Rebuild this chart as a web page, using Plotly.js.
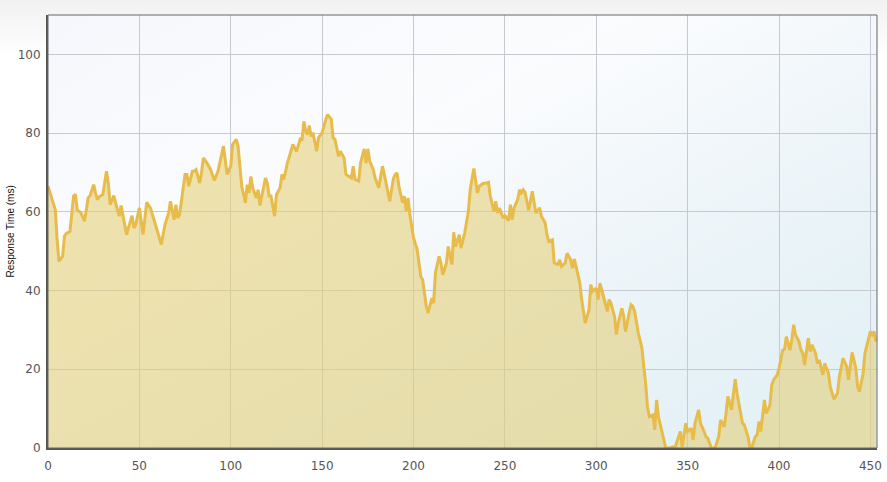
<!DOCTYPE html>
<html>
<head>
<meta charset="utf-8">
<script src="https://cdn.plot.ly/plotly-3.0.1.min.js"></script>
<style>
html,body{margin:0;padding:0;background:#fff;}
#chart{width:887px;height:482px;}
</style>
</head>
<body>
<div id="chart"></div>
<script>
// Sample index (x) and response time in ms (y)
var sampleX = [0,2,4,5,6,8,9,10,12,14,15,16,18,20,22,23,25,26,27,28,30,32,33,34,36,38,39,40,41,43,44,46,47,48,50,51,52,54,56,58,60,62,64,66,67,69,70,71,72,75,76,77,79,80,81,83,84,85,87,89,91,93,96,97,98,100,101,103,104,105,106,108,109,110,111,112,114,115,116,117,119,120,121,122,124,125,127,128,129,131,133,134,136,138,139,140,141,142,143,144,145,147,148,150,152,153,155,156,157,159,160,162,163,164,166,167,168,170,171,173,174,175,176,178,179,181,182,183,184,187,189,190,191,192,194,195,196,197,198,199,200,202,203,204,205,206,207,208,210,211,212,214,215,216,218,219,221,222,223,225,226,228,230,231,233,234,235,236,238,240,241,242,244,245,246,247,249,250,252,253,254,255,257,258,259,260,261,263,265,266,267,269,270,272,273,274,276,277,279,280,281,283,284,286,287,288,289,291,292,293,294,296,297,298,300,301,302,303,305,306,307,308,310,311,312,314,315,316,318,319,320,321,323,325,326,327,328,329,331,332,333,334,335,336,338,340,342,343,345,346,347,349,350,352,353,354,356,357,359,360,361,363,365,367,368,370,371,372,374,376,377,379,380,381,383,384,385,387,388,389,390,392,393,395,396,397,399,400,401,402,403,404,405,406,407,408,409,411,412,413,414,416,417,418,420,421,422,424,425,427,428,429,430,432,433,435,437,438,439,440,442,443,444,446,447,449,450,451,452,453];
var responseMs = [66.5,63.6,60.5,52.9,47.4,48.7,53.8,54.5,55,64,64.4,60.5,59.8,57.6,63.6,64.1,66.9,64.8,63.1,63.8,64.4,70.3,67.3,61.8,64.1,60.5,58.9,61.6,58.9,54.2,55.9,59,55.9,56.7,61,57.2,54.2,62.4,61,58,54.6,51.7,56.7,59.7,62.7,58,61.8,58.4,59.3,69.5,69.5,66.5,70.3,70.3,70.7,67.3,69.9,73.7,72.4,70.7,68,70.3,76.7,73.3,69.5,71.6,77.1,78.4,76.7,71.6,66.5,62.3,66.9,64.8,69,66.1,63.5,65.6,61.6,64,68.6,67.3,64,64,58.9,64.4,66.1,69.5,68.2,72.4,75.4,77.1,75.4,78.5,78.4,83,80.5,79.6,81.9,79.1,80.1,75.4,78.8,80.1,83.5,84.7,83.5,78.8,78.4,74.1,75.4,73.7,69.5,69.2,68.6,71.6,68.2,67.8,72.4,76,72.4,76,72.9,70.7,68.6,66.1,69,71.6,69.5,62.7,68.5,69.5,69.9,66.5,62.3,64,60.1,63.5,59.3,55.9,53.4,50.4,46.6,43.6,42.7,38.5,36,34.3,38.1,36.8,44.5,48.7,47,44,47,51.2,46.6,54.8,51.2,54.2,50.8,54.6,60.1,65.6,71,67.8,64.8,66.5,67.2,67.3,67.5,64,60.1,62.7,59.7,61,58.4,59,57.8,61.8,58,61,63.1,65.6,64.8,65.6,65,60.4,65.2,62.3,59.7,61,58.9,57.2,54.2,52.5,52.9,47,46.6,47.8,46.1,47,49.5,47.8,45.7,48,45.7,41.9,37.7,34.3,31.7,35.1,41.5,39.8,40.6,37.7,41.9,40.2,36.8,34.7,37.7,36.8,33.4,28.8,31.7,35.5,33.4,29.6,34.3,36.4,36,34.7,29.2,25.4,20.7,16.5,10.5,8,8.4,4.6,12.2,8,6,4.2,0,0,0.3,0,2.9,4.2,0.3,6.3,4.2,5,2,6.3,9.7,6.3,4.2,2.9,2.5,0,0,2.9,7.1,5.4,8.8,13.1,9.7,17.5,13.9,9.2,6.3,5.9,2.9,0.3,0,2.9,3.3,6.7,4.2,12.2,8.8,10.9,16,17.3,18.6,20.3,22.8,24.9,25.1,28.3,26.6,24.9,27.5,31.3,28.8,27,24.9,24.1,21.1,27.9,24.5,26.2,24.1,21.5,22.4,18.6,21.5,19,15.6,13.9,12.4,13.9,18.1,22.8,20.7,17.3,21.1,24.3,20.3,15.6,14.3,19,24.1,28.3,29.6,28.8,29.6,27];
var xTicks = [0,50,100,150,200,250,300,350,400,450];
var yTicks = [0,20,40,60,80,100];
var yTitle = "Response Time (ms)";

var plotBg = 'data:image/svg+xml;utf8,' + encodeURIComponent(
  '<svg xmlns="http://www.w3.org/2000/svg" width="100" height="100" preserveAspectRatio="none">' +
  '<defs><linearGradient id="g" x1="0" y1="0" x2="1" y2="1">' +
  '<stop offset="0" stop-color="#f6f7fc"/><stop offset="0.35" stop-color="#fbfcfe"/>' +
  '<stop offset="0.7" stop-color="#eaf3f8"/><stop offset="1" stop-color="#e0f0f4"/>' +
  '</linearGradient></defs><rect width="100" height="100" fill="url(#g)"/></svg>');
var paperBg = 'data:image/svg+xml;utf8,' + encodeURIComponent(
  '<svg xmlns="http://www.w3.org/2000/svg" width="100" height="100" preserveAspectRatio="none">' +
  '<defs><linearGradient id="p" x1="0" y1="0" x2="0" y2="1">' +
  '<stop offset="0" stop-color="#f1f1f1"/><stop offset="0.06" stop-color="#f8f8f8"/>' +
  '<stop offset="0.12" stop-color="#ffffff"/><stop offset="1" stop-color="#ffffff"/>' +
  '</linearGradient></defs><rect width="100" height="100" fill="url(#p)"/></svg>');

var trace = {
  x: sampleX,
  y: responseMs,
  type: 'scatter',
  mode: 'lines',
  fill: 'tozeroy',
  fillcolor: 'rgba(228,206,118,0.58)',
  line: {color: '#e7bc4a', width: 3},
  hoverinfo: 'x+y'
};

var layout = {
  width: 887,
  height: 482,
  margin: {l: 48, r: 10, t: 15, b: 34},
  paper_bgcolor: '#ffffff',
  plot_bgcolor: 'rgba(0,0,0,0)',
  showlegend: false,
  font: {family: 'DejaVu Sans, Verdana, sans-serif', size: 12, color: '#555'},
  xaxis: {
    range: [0, 453.6],
    tickvals: xTicks,
    ticktext: xTicks.map(String),
    showgrid: true,
    gridcolor: '#c6c9d0',
    gridwidth: 1,
    zeroline: false,
    showline: true,
    linecolor: '#555550',
    linewidth: 2,
    ticks: '',
    ticklabelstandoff: 6,
    tickfont: {family: 'DejaVu Sans, Verdana, sans-serif', size: 12, color: '#555'},
    fixedrange: true
  },
  yaxis: {
    range: [0, 110],
    tickvals: yTicks,
    ticktext: yTicks.map(String),
    showgrid: true,
    gridcolor: '#c6c9d0',
    gridwidth: 1,
    zeroline: false,
    showline: true,
    linecolor: '#555550',
    linewidth: 2,
    ticks: '',
    ticklabelstandoff: 3,
    tickfont: {family: 'DejaVu Sans, Verdana, sans-serif', size: 12, color: '#555'},
    fixedrange: true
  },
  annotations: [
    {text: yTitle, xref: 'paper', yref: 'paper', x: -0.0458, y: 0.5, xanchor: 'center', yanchor: 'middle',
     textangle: -90, showarrow: false, font: {family: 'Liberation Sans, Arial, sans-serif', size: 10, color: '#111'}}
  ],
  images: [
    {source: paperBg, xref: 'paper', yref: 'paper', x: -0.058, y: 1.0347, sizex: 1.07, sizey: 1.114,
     xanchor: 'left', yanchor: 'top', sizing: 'stretch', layer: 'below'},
    {source: plotBg, xref: 'paper', yref: 'paper', x: 0, y: 1, sizex: 1, sizey: 1,
     xanchor: 'left', yanchor: 'top', sizing: 'stretch', layer: 'below'}
  ],
  shapes: [
    {type: 'rect', xref: 'paper', yref: 'paper', x0: 0, x1: 1, y0: 0, y1: 1,
     line: {color: '#666', width: 1}, fillcolor: 'rgba(0,0,0,0)', layer: 'above'}
  ]
};

Plotly.newPlot('chart', [trace], layout, {displayModeBar: false, staticPlot: true});
</script>
</body>
</html>
